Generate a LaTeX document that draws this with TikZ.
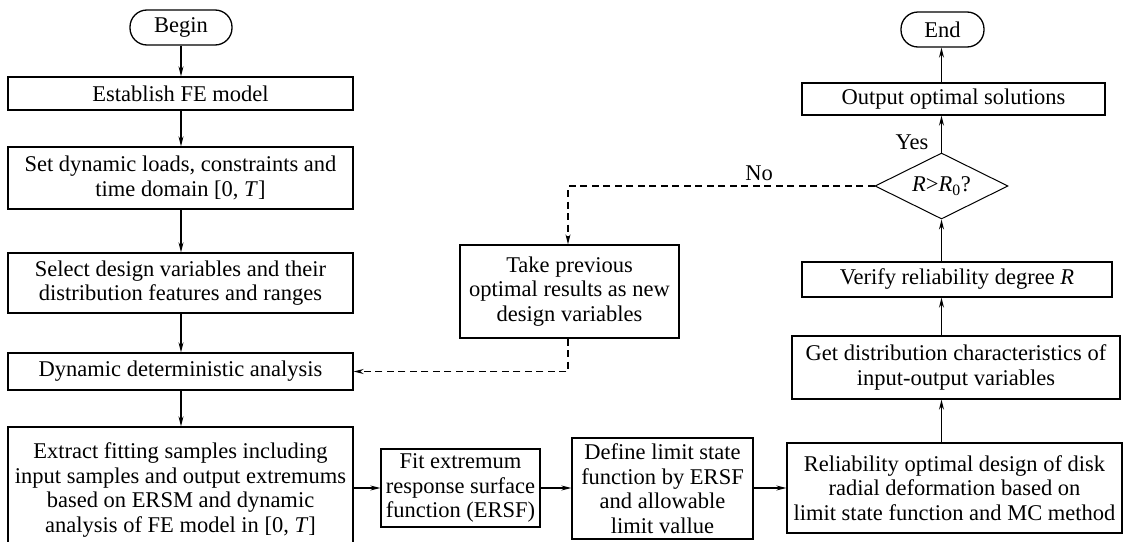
\documentclass[tikz,border=0pt]{standalone}
\usepackage{fontspec}
\setmainfont{Liberation Serif}
\usetikzlibrary{shapes.geometric,arrows.meta}
\tikzset{
  box/.style={draw, line width=1.3pt, align=center, inner sep=0pt, font=\fontsize{22.5}{24.5}\selectfont},
  term/.style={box, rounded corners=17pt},
  dec/.style={draw, line width=1pt, diamond, aspect=2, inner sep=0pt, font=\fontsize{22.5}{24.5}\selectfont},
  arr/.style={line width=1.2pt, -{Stealth[length=10pt,width=5pt]}},
  darr/.style={line width=1.1pt, dash pattern=on 7pt off 4.5pt, -{Stealth[length=10pt,width=5pt]}},
  lbl/.style={font=\fontsize{22.5}{24.5}\selectfont, inner sep=0pt}
}
\begin{document}
\begin{tikzpicture}[x=1pt,y=-1pt]
\useasboundingbox (0,0) rectangle (1124,541);
\clip (0,0) rectangle (1124,541);
\fill[white] (0,0) rectangle (1124,541);
% left column
\node[term, minimum width=102pt, minimum height=35pt] (begin) at (181,27.5) {Begin};
\node[box, minimum width=345pt, minimum height=33pt] (est) at (180.5,93.5) {Establish FE model};
\node[box, minimum width=345pt, minimum height=62pt] (set) at (180.5,178) {Set dynamic loads, constraints and\\time domain [0, \textit{T}]};
\node[box, minimum width=345pt, minimum height=60pt] (sel) at (180.5,283) {Select design variables and their\\distribution features and ranges};
\node[box, minimum width=345pt, minimum height=37pt] (dyn) at (180.5,371.5) {Dynamic deterministic analysis};
\node[box, minimum width=345pt, minimum height=126pt] (ext) at (180.5,490) {Extract fitting samples including\\input samples and output extremums\\based on ERSM and dynamic\\analysis of FE model in [0, \textit{T}]};
% bottom row
\node[box, minimum width=159pt, minimum height=78pt] (fit) at (460.5,488) {Fit extremum\\response surface\\function (ERSF)};
\node[box, minimum width=181pt, minimum height=101pt] (def) at (662.5,488.5) {Define limit state\\function by ERSF\\and allowable\\limit vallue};
\node[box, minimum width=335pt, minimum height=90pt] (rel) at (954.5,488) {Reliability optimal design of disk\\radial deformation based on\\limit state function and MC method};
% right column
\node[box, minimum width=328pt, minimum height=63pt] (getd) at (956,367.5) {Get distribution characteristics of\\input-output variables};
\node[box, minimum width=310pt, minimum height=35pt] (ver) at (957,279.5) {Verify reliability degree \textit{R}};
\node[dec, minimum width=133pt, minimum height=66pt] (q) at (941.5,186) {\textit{R}>\textit{R}\textsubscript{0}?};
\node[box, minimum width=303pt, minimum height=32pt] (out) at (953.5,99) {Output optimal solutions};
\node[term, minimum width=83pt, minimum height=35pt] (end) at (942.5,29.5) {End};
% middle
\node[box, minimum width=219pt, minimum height=93pt] (take) at (569.5,291.5) {Take previous\\optimal results as new\\design variables};
% labels
\node[lbl] (yes) at (912,142) {Yes};
\node[lbl] (no) at (759,173) {No};
% arrows left column
\draw[arr] (begin.south) -- (est.north -| begin.south);
\draw[arr] (est.south -| begin.south) -- (set.north -| begin.south);
\draw[arr] (set.south -| begin.south) -- (sel.north -| begin.south);
\draw[arr] (sel.south -| begin.south) -- (dyn.north -| begin.south);
\draw[arr] (dyn.south -| begin.south) -- (ext.north -| begin.south);
% bottom row
\draw[arr] (ext.east |- fit.west) -- (fit.west);
\draw[arr] (fit.east) -- (def.west |- fit.east);
\draw[arr] (def.east |- fit.east) -- (rel.west |- fit.east);
% right column
\draw[arr] (rel.north -| q.south) -- (getd.south -| q.south);
\draw[arr] (getd.north -| q.south) -- (ver.south -| q.south);
\draw[arr] (ver.north -| q.south) -- (q.south);
\draw[arr] (q.north) -- (out.south -| q.north);
\draw[arr] (out.north -| q.north) -- (end.south -| q.north);
% dashed loop
\coordinate (c1) at (568,186);
\coordinate (c2) at (568,371.5);
\draw[darr] (q.west) -- (c1) -- (take.north -| c1);
\draw[darr] (take.south -| c1) -- (c2) -- (dyn.east |- c2);
\end{tikzpicture}
\end{document}
